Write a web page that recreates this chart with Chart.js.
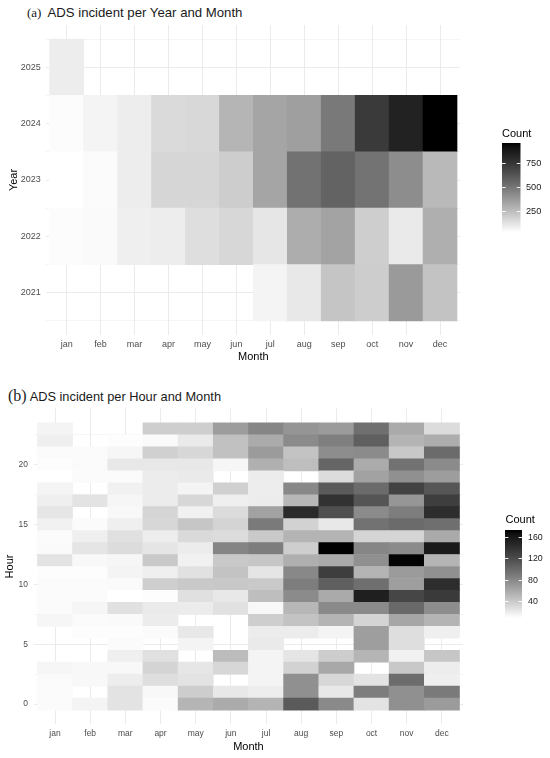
<!DOCTYPE html>
<html>
<head>
<meta charset="utf-8">
<script src="https://cdn.jsdelivr.net/npm/chart.js@4.4.0/dist/chart.umd.min.js"></script>
<style>
  body { margin: 0; background: #fff; width: 550px; height: 758px; position: relative; overflow: hidden;
         font-family: "Liberation Sans", Arial, sans-serif; }
  .ttl { position: absolute; white-space: nowrap; color: #1a1a1a; }
  .ttl .tag { font-family: "Liberation Serif", "Times New Roman", serif; }
  canvas { position: absolute; left: 0; }
</style>
</head>
<body>
<div class="ttl" style="left:27px;top:4px;font-size:13.2px;line-height:17px"><span class="tag" style="font-size:13px;margin-right:6px">(a)</span>ADS incident per Year and Month</div>
<div class="ttl" style="left:8px;top:387px;font-size:12.8px;line-height:18px"><span class="tag" style="font-size:16px;margin-right:3px">(b)</span>ADS incident per Hour and Month</div>
<canvas id="chartYear" width="550" height="370" style="top:0"></canvas>
<canvas id="chartHour" width="550" height="378" style="top:380px"></canvas>
<script>
const months = ['jan', 'feb', 'mar', 'apr', 'may', 'jun', 'jul', 'aug', 'sep', 'oct', 'nov', 'dec'];

// (a) incidents per year and month (null = no tile)
const years = [2021, 2022, 2023, 2024, 2025];
const count2021 = [null, null, null, null, null, null, 72, 111, 225, 200, 371, 232];
const count2022 = [47, 52, 86, 95, 142, 167, 117, 306, 342, 195, 104, 300];
const count2023 = [36, 49, 95, 170, 170, 197, 334, 517, 573, 514, 418, 266];
const count2024 = [47, 72, 95, 157, 163, 278, 334, 355, 491, 733, 837, 960];
const count2025 = [95, null, null, null, null, null, null, null, null, null, null, null];
const yearTicks = [2021, 2022, 2023, 2024, 2025];
const yearLegendTicks = [250, 500, 750];

// (b) incidents per hour and month, one row per hour 0..23
const hours = [0, 1, 2, 3, 4, 5, 6, 7, 8, 9, 10, 11, 12, 13, 14, 15, 16, 17, 18, 19, 20, 21, 22, 23];
const hourCounts = [
  [11, 15, 25, 11, 52, 58, 53, 110, 79, 25, 75, 68],      // 0
  [11, null, 25, 13, 38, 22, 19, 75, 22, 87, 75, 89],     // 1
  [12, 13, 19, 28, 25, null, 15, 75, 32, 25, 98, 18],     // 2
  [14, 13, 13, 34, 23, 32, 15, 35, 60, null, 41, 19],     // 3
  [null, null, 18, 27, null, 48, 15, 24, 38, 52, 17, 42], // 4
  [null, null, 11, null, 15, null, 21, null, null, 66, 28, null], // 5
  [null, 10, 10, 11, 22, null, 20, 20, 15, 66, 28, 18],   // 6
  [14, 11, 12, 20, null, null, 37, 44, 53, 34, 61, 53],   // 7
  [11, 14, 26, 21, 20, 26, 13, 51, 79, 79, 100, 77],      // 8
  [11, 11, 9, 10, 27, 22, 47, 78, 59, 154, 124, 133],     // 9
  [11, 11, 12, 37, 40, 41, 40, 87, 107, 96, 66, 143],     // 10
  [10, 10, 15, 18, 26, 44, 24, 80, 130, 53, 68, 75],      // 11
  [25, 13, 14, 40, 17, 40, 42, 56, 59, 75, 171, 53],      // 12
  [12, 24, 29, 24, 20, 82, 87, 37, 173, 81, 78, 158],     // 13
  [11, 18, 27, 19, 30, 29, 40, 53, 53, 33, 33, 59],       // 14
  [17, 11, 18, 32, 42, 34, 89, 35, 22, 94, 99, 96],       // 15
  [23, null, 13, 33, 17, 29, 64, 145, 118, 78, 87, 143],  // 16
  [18, 25, 14, 20, 32, 18, 20, 51, 139, 114, 71, 130],    // 17
  [15, null, 17, 20, 15, 36, 19, 80, 110, 99, 127, 113],  // 18
  [9, 11, 11, 20, 21, null, 20, null, 29, 64, 75, 67],    // 19
  [10, 12, 22, 22, 22, 14, 55, 47, 103, 58, 94, 78],      // 20
  [11, 11, 14, 36, 32, 45, 68, 44, 77, 78, 41, 99],       // 21
  [18, null, 10, 12, 21, 45, 58, 78, 86, 107, 53, 57],    // 22
  [15, null, null, 37, 37, 67, 81, 72, 68, 96, 59, 29]    // 23
];
const hourTicks = [0, 5, 10, 15, 20];
const hourLegendTicks = [40, 80, 120, 160];

const SANS = '"Liberation Sans", Arial, sans-serif';

// white -> black through Lab lightness, like ggplot's scale_fill_gradient
function greyFor(v, lo, hi) {
  const t = (v - lo) / (hi - lo);
  const L = 100 * (1 - t);
  const Y = L > 8 ? Math.pow((L + 16) / 116, 3) : L / 903.3;
  const s = Y <= 0.0031308 ? 12.92 * Y : 1.055 * Math.pow(Y, 1 / 2.4) - 0.055;
  const g = Math.round(255 * Math.min(1, Math.max(0, s)));
  return `rgb(${g},${g},${g})`;
}

const colorbar = {
  id: 'colorbar',
  afterDraw(chart, args, o) {
    const ctx = chart.ctx;
    ctx.save();
    ctx.fillStyle = '#000';
    ctx.font = `${o.titleSize}px ${SANS}`;
    ctx.textBaseline = 'middle';
    ctx.textAlign = 'left';
    ctx.fillText('Count', o.titleX, o.titleY);
    for (let i = 0; i < o.h; i++) {
      const v = o.hi - (i + 0.5) / o.h * (o.hi - o.lo);
      ctx.fillStyle = greyFor(v, o.lo, o.hi);
      ctx.fillRect(o.x, o.y + i, o.w, 1);
    }
    ctx.font = `${o.labelSize}px ${SANS}`;
    ctx.strokeStyle = 'rgba(255,255,255,0.9)';
    ctx.lineWidth = 1;
    o.ticks.forEach(t => {
      const py = Math.round(o.y + o.h - (t - o.lo) / (o.hi - o.lo) * o.h) + 0.5;
      const tl = o.w / 5;
      ctx.beginPath();
      ctx.moveTo(o.x, py); ctx.lineTo(o.x + tl, py);
      ctx.moveTo(o.x + o.w - tl, py); ctx.lineTo(o.x + o.w, py);
      ctx.stroke();
      ctx.fillStyle = '#1a1a1a';
      ctx.fillText(String(t), o.labelX, py);
    });
    ctx.restore();
  }
};

function heatmap(canvasId, cfg) {
  const all = cfg.rows.flat().filter(v => v != null);
  const lo = Math.min(...all), hi = Math.max(...all);
  const datasets = cfg.keys.map((k, i) => ({
    data: cfg.rows[i].map((v, j) => v == null ? null : { x: j + 1, y: [k - 0.5, k + 0.5], v })
                     .filter(d => d),
    backgroundColor: c => greyFor(c.raw.v, lo, hi),
    borderWidth: 0,
    barPercentage: 1,
    categoryPercentage: 1,
    grouped: false
  }));

  // major + minor breaks, like ggplot
  const yBreaks = [];
  cfg.yTicks.forEach((t, i) => {
    yBreaks.push(t);
    const step = cfg.yTicks[1] - cfg.yTicks[0];
    if (t - step / 2 > cfg.yMin) yBreaks.push(t - step / 2);
    if (i === cfg.yTicks.length - 1 && t + step / 2 < cfg.yMax) yBreaks.push(t + step / 2);
  });
  yBreaks.sort((a, b) => a - b);

  return new Chart(document.getElementById(canvasId), {
    type: 'bar',
    data: { datasets },
    plugins: [colorbar],
    options: {
      responsive: false,
      devicePixelRatio: 1,
      animation: false,
      layout: { padding: cfg.padding },
      plugins: {
        legend: { display: false },
        tooltip: { enabled: false },
        colorbar: Object.assign({ lo, hi }, cfg.bar)
      },
      scales: {
        x: {
          type: 'linear',
          min: 0.4, max: 12.6,
          offset: false,
          afterBuildTicks: s => { s.ticks = months.map((m, i) => ({ value: i + 1 })); },
          afterFit: s => { s.height = cfg.xHeight; },
          ticks: {
            callback: (v, i) => months[i],
            autoSkip: false, maxRotation: 0,
            padding: cfg.tickPad,
            color: '#4d4d4d',
            font: { family: SANS, size: cfg.tickSize }
          },
          grid: { offset: false, color: '#ebebeb', lineWidth: 1, drawTicks: false },
          border: { display: false },
          title: {
            display: true, text: 'Month', color: '#000',
            font: { family: SANS, size: 11 },
            padding: { top: 0, bottom: cfg.xTitlePad }
          }
        },
        y: {
          type: 'linear',
          min: cfg.yMin, max: cfg.yMax,
          beginAtZero: false,
          afterBuildTicks: s => { s.ticks = yBreaks.map(v => ({ value: v })); },
          afterFit: s => { s.width = cfg.yWidth; },
          ticks: {
            callback: v => cfg.yTicks.includes(v) ? String(v) : '',
            autoSkip: false,
            padding: cfg.yTickPad,
            color: '#4d4d4d',
            font: { family: SANS, size: cfg.tickSize }
          },
          grid: {
            color: '#ebebeb', drawTicks: false,
            lineWidth: c => cfg.yTicks.includes(c.tick.value) ? 1 : 0.5
          },
          border: { display: false },
          title: {
            display: true, text: cfg.yTitle, color: '#000',
            font: { family: SANS, size: 11 },
            padding: { top: cfg.yTitlePad, bottom: 0 }
          }
        }
      }
    }
  });
}

heatmap('chartYear', {
  keys: years,
  rows: [count2021, count2022, count2023, count2024, count2025],
  yTicks: yearTicks,
  yMin: 2020.25, yMax: 2025.75,
  yTitle: 'Year',
  padding: { left: 0, top: 25, right: 89.6, bottom: 0 },
  yWidth: 46.3, xHeight: 35,
  tickSize: 9, tickPad: 4, yTickPad: 5.6,
  xTitlePad: 6, yTitlePad: 7.4,
  bar: { x: 502, y: 143, w: 18.5, h: 89, ticks: yearLegendTicks,
         titleX: 502, titleY: 134, titleSize: 11, labelX: 526, labelSize: 9.2 }
});

heatmap('chartHour', {
  keys: hours,
  rows: hourCounts,
  yTicks: hourTicks,
  yMin: -1.7, yMax: 24.7,
  yTitle: 'Hour',
  padding: { left: 0, top: 28.6, right: 87, bottom: 0 },
  yWidth: 33.9, xHeight: 33.6,
  tickSize: 8.5, tickPad: 4, yTickPad: 5.9,
  xTitlePad: 4.4, yTitlePad: 3.4,
  bar: { x: 505, y: 150, w: 17, h: 88, ticks: hourLegendTicks,
         titleX: 505.5, titleY: 140, titleSize: 11, labelX: 528, labelSize: 8.8 }
});
</script>
</body>
</html>
